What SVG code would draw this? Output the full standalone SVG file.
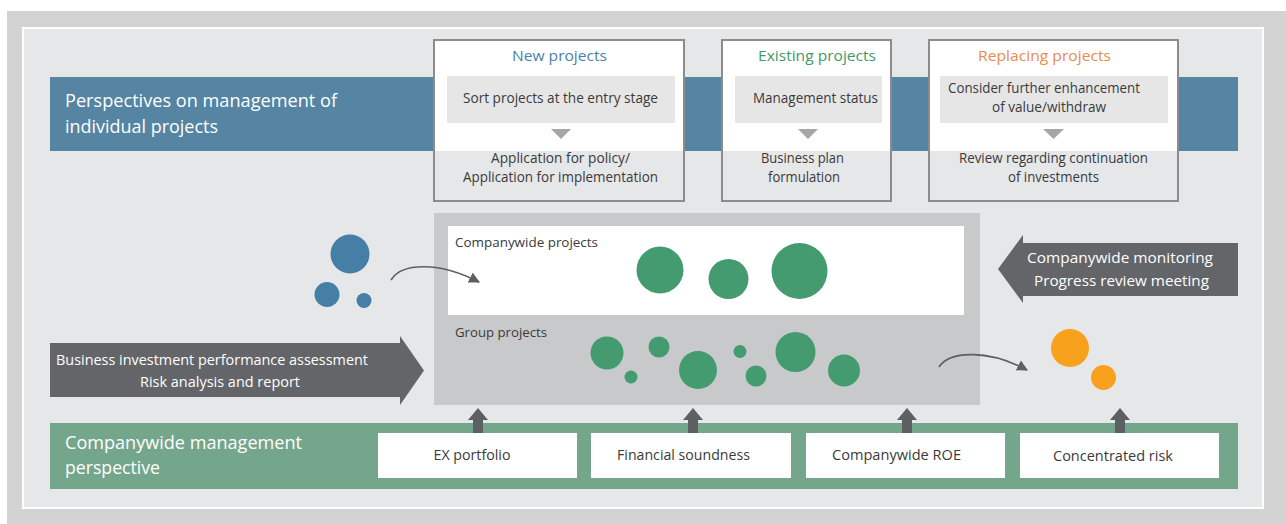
<svg xmlns="http://www.w3.org/2000/svg" width="1286" height="524" viewBox="0 0 1286 524">
<defs>
<style>
text{font-family:"Open Sans","Noto Sans",sans-serif;}
.band{fill:#ffffff;font-size:18.5px;}
.title{font-size:15px;text-anchor:middle;}
.body{fill:#3a3a3a;font-size:14px;text-anchor:middle;}
.arrtxt{fill:#ffffff;font-size:15px;text-anchor:middle;}
.lbl{fill:#3a3a3a;font-size:13px;}
.box{fill:none;stroke:#8c8c8c;stroke-width:2;}
.inner{fill:#e6e6e6;}
.tri{fill:#a6a6a6;}
.green{fill:#439b6f;}
.blue{fill:#457fa5;}
.orange{fill:#f7a11c;}
.wbox{fill:#ffffff;}
.up{fill:#5e5f63;}
.curve{fill:none;stroke:#5e5f63;stroke-width:1.6;}
</style>
<marker id="ah" viewBox="0 0 10 10" refX="9" refY="5" markerWidth="11" markerHeight="11" markerUnits="userSpaceOnUse" orient="auto">
<path d="M0,0 L10,5 L0,10 z" fill="#5e5f63"/>
</marker>
</defs>
<rect x="7" y="11" width="1279" height="513" fill="#d3d3d3"/>
<rect x="23" y="28" width="1240" height="480" fill="#e6e7e9" stroke="#ffffff" stroke-width="2"/>

<g id="band-individual">
<rect x="50" y="77" width="1188" height="74" fill="#5585a3"/>
<text class="band" x="65" y="107" textLength="272" lengthAdjust="spacingAndGlyphs">Perspectives on management of</text>
<text class="band" x="65" y="133" textLength="153" lengthAdjust="spacingAndGlyphs">individual projects</text>
</g>

<g id="new-projects">
<rect x="434" y="40" width="250" height="111" fill="#ffffff"/>
<rect x="434" y="151" width="250" height="50" fill="#e6e7e9"/>
<rect class="box" x="434" y="40" width="250" height="161"/>
<text class="title" x="559.5" y="61" fill="#4a7fa8" textLength="95" lengthAdjust="spacingAndGlyphs">New projects</text>
<rect class="inner" x="447" y="76" width="228" height="47"/>
<text class="body" x="560.5" y="103" textLength="195" lengthAdjust="spacingAndGlyphs">Sort projects at the entry stage</text>
<path class="tri" d="M551,129 L571,129 L561,139 z"/>
<text class="body" x="560.5" y="163" textLength="139" lengthAdjust="spacingAndGlyphs">Application for policy/</text>
<text class="body" x="560.5" y="182" textLength="195" lengthAdjust="spacingAndGlyphs">Application for implementation</text>
</g>

<g id="existing-projects">
<rect x="722" y="40" width="169" height="111" fill="#ffffff"/>
<rect x="722" y="151" width="169" height="50" fill="#e6e7e9"/>
<rect class="box" x="722" y="40" width="169" height="161"/>
<text class="title" x="817" y="61" fill="#3f9a6b" textLength="118" lengthAdjust="spacingAndGlyphs">Existing projects</text>
<rect class="inner" x="735" y="76" width="147" height="47"/>
<text class="body" x="815.5" y="103" textLength="125" lengthAdjust="spacingAndGlyphs">Management status</text>
<path class="tri" d="M798,129 L818,129 L808,139 z"/>
<text class="body" x="802.5" y="163" textLength="83" lengthAdjust="spacingAndGlyphs">Business plan</text>
<text class="body" x="804" y="182" textLength="72" lengthAdjust="spacingAndGlyphs">formulation</text>
</g>

<g id="replacing-projects">
<rect x="929" y="40" width="249" height="111" fill="#ffffff"/>
<rect x="929" y="151" width="249" height="50" fill="#e6e7e9"/>
<rect class="box" x="929" y="40" width="249" height="161"/>
<text class="title" x="1044.5" y="61" fill="#ec8a4e" textLength="133" lengthAdjust="spacingAndGlyphs">Replacing projects</text>
<rect class="inner" x="940" y="76" width="228" height="47"/>
<text class="body" x="1044" y="93" textLength="192" lengthAdjust="spacingAndGlyphs">Consider further enhancement</text>
<text class="body" x="1049" y="112" textLength="114" lengthAdjust="spacingAndGlyphs">of value/withdraw</text>
<path class="tri" d="M1043,129 L1064,129 L1053.5,139 z"/>
<text class="body" x="1053.5" y="163" textLength="189" lengthAdjust="spacingAndGlyphs">Review regarding continuation</text>
<text class="body" x="1053.5" y="182" textLength="91" lengthAdjust="spacingAndGlyphs">of investments</text>
</g>

<g id="projects-pool">
<rect x="434" y="213" width="546" height="192" fill="#c8c9cb"/>
<rect x="448" y="226" width="516" height="89" fill="#ffffff"/>
<text class="lbl" x="455" y="247" textLength="143" lengthAdjust="spacingAndGlyphs">Companywide projects</text>
<circle class="green" cx="660" cy="270" r="23.5"/>
<circle class="green" cx="728.5" cy="279" r="20"/>
<circle class="green" cx="799.5" cy="271" r="28"/>
<text class="lbl" x="455" y="337" textLength="92" lengthAdjust="spacingAndGlyphs">Group projects</text>
<circle class="green" cx="607" cy="353" r="16.5"/>
<circle class="green" cx="659" cy="347" r="10.5"/>
<circle class="green" cx="631" cy="377" r="6.5"/>
<circle class="green" cx="698" cy="370" r="19"/>
<circle class="green" cx="740" cy="351.5" r="6.5"/>
<circle class="green" cx="756" cy="376" r="10.5"/>
<circle class="green" cx="795.5" cy="352" r="20"/>
<circle class="green" cx="844" cy="370.5" r="16"/>
</g>

<g id="new-candidates">
<circle class="blue" cx="350" cy="254" r="19.5"/>
<circle class="blue" cx="327" cy="294.5" r="12.5"/>
<circle class="blue" cx="364" cy="300.5" r="7.5"/>
</g>

<g id="exit-candidates">
<circle class="orange" cx="1070" cy="348" r="19"/>
<circle class="orange" cx="1103.5" cy="377.5" r="12.5"/>
</g>

<g id="assessment-arrow">
<path d="M50,343 L400,343 L400,336 L424,370.5 L400,405 L400,397 L50,397 z" fill="#636569"/>
<text class="arrtxt" x="212" y="365" textLength="312" lengthAdjust="spacingAndGlyphs">Business investment performance assessment</text>
<text class="arrtxt" x="220" y="387" textLength="160" lengthAdjust="spacingAndGlyphs">Risk analysis and report</text>
</g>

<g id="monitoring-arrow">
<path d="M1238,243 L1023,243 L1023,235 L998,269 L1023,303 L1023,296 L1238,296 z" fill="#636569"/>
<text class="arrtxt" x="1120" y="263" textLength="186" lengthAdjust="spacingAndGlyphs">Companywide monitoring</text>
<text class="arrtxt" x="1121.5" y="286" textLength="175" lengthAdjust="spacingAndGlyphs">Progress review meeting</text>
</g>

<g id="band-companywide">
<rect x="50" y="423" width="1188" height="66" fill="#74a68c"/>
<text class="band" x="65" y="449" textLength="237" lengthAdjust="spacingAndGlyphs">Companywide management</text>
<text class="band" x="65" y="474" textLength="95" lengthAdjust="spacingAndGlyphs">perspective</text>
</g>

<g id="ex-portfolio">
<rect class="wbox" x="378" y="433" width="199" height="45"/>
<text class="body" x="472" y="460" textLength="77" lengthAdjust="spacingAndGlyphs">EX portfolio</text>
</g>
<g id="financial-soundness">
<rect class="wbox" x="591" y="433" width="200" height="45"/>
<text class="body" x="683.5" y="460" textLength="133" lengthAdjust="spacingAndGlyphs">Financial soundness</text>
</g>
<g id="companywide-roe">
<rect class="wbox" x="806" y="433" width="199" height="45"/>
<text class="body" x="896.5" y="460" textLength="129" lengthAdjust="spacingAndGlyphs">Companywide ROE</text>
</g>
<g id="concentrated-risk">
<rect class="wbox" x="1020" y="433" width="199" height="45"/>
<text class="body" x="1113" y="461" textLength="120" lengthAdjust="spacingAndGlyphs">Concentrated risk</text>
</g>

<g id="connectors">
<path class="curve" d="M391,280 C402,262 440,262 479,282" marker-end="url(#ah)"/>
<path class="curve" d="M939,367 C950,350 990,350 1027,370" marker-end="url(#ah)"/>
<path class="up" d="M473,433 L473,420 L468,420 L478,408 L488,420 L483,420 L483,433 z"/>
<path class="up" d="M688,433 L688,420 L683,420 L693,408 L703,420 L698,420 L698,433 z"/>
<path class="up" d="M902,433 L902,420 L897,420 L907,408 L917,420 L912,420 L912,433 z"/>
<path class="up" d="M1115,433 L1115,420 L1110,420 L1120,408 L1130,420 L1125,420 L1125,433 z"/>
</g>
</svg>
